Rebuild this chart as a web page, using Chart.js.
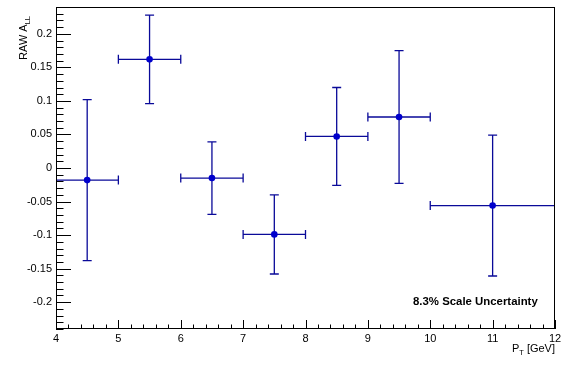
<!DOCTYPE html>
<html><head><meta charset="utf-8">
<script src="https://cdn.jsdelivr.net/npm/chart.js@4"></script>
<style>html,body{margin:0;padding:0;background:#fff;}#wrap{width:567px;height:366px;}</style>
</head><body><div id="wrap"><canvas id="c" width="567" height="366"></canvas></div>
<script>
// ---- data ----
const ptCenters = [4.5, 5.5, 6.5, 7.5, 8.5, 9.5, 11];
const ptLow     = [4, 5, 6, 7, 8, 9, 10];
const ptHigh    = [5, 6, 7, 8, 9, 10, 12];
const asym      = [-0.018, 0.162, -0.015, -0.099, 0.047, 0.076, -0.056];
const asymErr   = [0.120, 0.066, 0.054, 0.059, 0.073, 0.099, 0.105];
const xTicks = [4, 5, 6, 7, 8, 9, 10, 11, 12];
const xTickLabels = ['4','5','6','7','8','9','10','11','12'];
const yTicks = [-0.2, -0.15, -0.1, -0.05, 0, 0.05, 0.1, 0.15, 0.2];
const yTickLabels = ['-0.2','-0.15','-0.1','-0.05','0','0.05','0.1','0.15','0.2'];
const xMin = 4, xMax = 12, yMin = -0.24, yMax = 0.24;
const xMinorStep = 0.2, yMinorStep = 0.01;
const scaleNote = '8.3% Scale Uncertainty';

const FONT = '"Liberation Sans", Arial, Helvetica, sans-serif';
const LINE = '#0a0a99';
const MARK = '#0000cc';

const rootPlugin = {
  id: 'rootStyle',
  beforeDatasetsDraw(chart) {
    const ctx = chart.ctx, xs = chart.scales.x, ys = chart.scales.y;
    const ca = chart.chartArea;
    ctx.save();
    ctx.beginPath(); ctx.rect(ca.left, ca.top, ca.right - ca.left, ca.bottom - ca.top); ctx.clip();
    ctx.strokeStyle = LINE; ctx.lineWidth = 1.3;
    const cap = 4.5;
    for (let i = 0; i < ptCenters.length; i++) {
      const px = xs.getPixelForValue(ptCenters[i]);
      const py = ys.getPixelForValue(asym[i]);
      const x1 = xs.getPixelForValue(ptLow[i]), x2 = xs.getPixelForValue(ptHigh[i]);
      const y1 = ys.getPixelForValue(asym[i] + asymErr[i]), y2 = ys.getPixelForValue(asym[i] - asymErr[i]);
      ctx.beginPath();
      ctx.moveTo(x1, py); ctx.lineTo(x2, py);
      ctx.moveTo(x1, py - cap); ctx.lineTo(x1, py + cap);
      ctx.moveTo(x2, py - cap); ctx.lineTo(x2, py + cap);
      ctx.moveTo(px, y1); ctx.lineTo(px, y2);
      ctx.moveTo(px - cap, y1); ctx.lineTo(px + cap, y1);
      ctx.moveTo(px - cap, y2); ctx.lineTo(px + cap, y2);
      ctx.stroke();
    }
    ctx.restore();
  },
  afterDraw(chart) {
    const ctx = chart.ctx, xs = chart.scales.x, ys = chart.scales.y;
    const ca = chart.chartArea;
    ctx.save();
    ctx.strokeStyle = '#000'; ctx.lineWidth = 1;
    // frame
    ctx.strokeRect(Math.round(ca.left) + 0.5, Math.round(ca.top) + 0.5,
                   Math.round(ca.right - ca.left) - 1, Math.round(ca.bottom - ca.top) - 1);
    ctx.beginPath();
    // x ticks
    const nx = Math.round((xMax - xMin) / xMinorStep);
    for (let k = 0; k <= nx; k++) {
      const v = xMin + k * xMinorStep;
      const major = Math.abs(v - Math.round(v)) < 1e-6;
      const p = Math.round(xs.getPixelForValue(v)) + 0.5;
      const len = major ? 9 : 4.5;
      ctx.moveTo(p, ca.bottom); ctx.lineTo(p, ca.bottom - len);
    }
    // y ticks
    const ny = Math.round((yMax - yMin) / yMinorStep);
    for (let k = 0; k <= ny; k++) {
      const v = yMin + k * yMinorStep;
      const r = v / 0.05;
      const major = Math.abs(r - Math.round(r)) < 1e-6;
      const p = Math.round(ys.getPixelForValue(v)) + 0.5;
      const len = major ? 15 : 7.5;
      ctx.moveTo(ca.left, p); ctx.lineTo(ca.left + len, p);
    }
    ctx.stroke();

    ctx.fillStyle = '#000';
    ctx.textBaseline = 'alphabetic';
    // x title P_T [GeV]
    const big = '11px ' + FONT, small = '7.5px ' + FONT;
    ctx.font = big; const wP = ctx.measureText('P').width; const wG = ctx.measureText(' [GeV]').width;
    ctx.font = small; const wT = ctx.measureText('T').width;
    let x0 = ca.right - (wP + wT + wG);
    const by = 352;
    ctx.textAlign = 'left';
    ctx.font = big; ctx.fillText('P', x0, by);
    ctx.font = small; ctx.fillText('T', x0 + wP, by + 3);
    ctx.font = big; ctx.fillText(' [GeV]', x0 + wP + wT, by);

    // y title RAW A_LL
    ctx.font = big; const wR = ctx.measureText('RAW A').width;
    ctx.font = small; const wL = ctx.measureText('LL').width;
    const total = wR + wL;
    ctx.save();
    ctx.translate(27, 16 + total);
    ctx.rotate(-Math.PI / 2);
    ctx.font = big; ctx.fillText('RAW A', 0, 0);
    ctx.font = small; ctx.fillText('LL', wR, 3);
    ctx.restore();

    // note
    ctx.font = 'bold 11.4px ' + FONT;
    ctx.fillText(scaleNote, 413, 305);
    ctx.restore();
  }
};

new Chart(document.getElementById('c'), {
  type: 'scatter',
  data: {
    datasets: [{
      data: ptCenters.map((x, i) => ({ x: x, y: asym[i] })),
      pointRadius: 3.3,
      pointBackgroundColor: MARK,
      pointBorderColor: MARK,
      pointBorderWidth: 0,
      showLine: false
    }]
  },
  options: {
    responsive: false,
    animation: false,
    devicePixelRatio: 1,
    layout: { padding: { top: 7, right: 12, left: 0, bottom: 0 } },
    plugins: { legend: { display: false }, tooltip: { enabled: false } },
    scales: {
      x: {
        type: 'linear', min: xMin, max: xMax,
        afterBuildTicks: s => { s.ticks = xTicks.map(v => ({ value: v })); },
        afterFit: s => { s.height = 37; s.paddingLeft = 0; s.paddingRight = 0; },
        ticks: {
          callback: (v, i) => xTickLabels[i],
          font: { size: 11, family: FONT }, color: '#000', padding: 3,
          maxRotation: 0, autoSkip: false
        },
        grid: { display: false, drawTicks: false },
        border: { display: false }
      },
      y: {
        type: 'linear', min: yMin, max: yMax,
        afterBuildTicks: s => { s.ticks = yTicks.map(v => ({ value: v })); },
        afterFit: s => { s.width = 56; s.paddingTop = 0; s.paddingBottom = 0; },
        ticks: {
          callback: (v, i) => yTickLabels[i],
          font: { size: 11, family: FONT }, color: '#000', padding: 4,
          autoSkip: false
        },
        grid: { display: false, drawTicks: false },
        border: { display: false }
      }
    }
  },
  plugins: [rootPlugin]
});
</script>
</body></html>
